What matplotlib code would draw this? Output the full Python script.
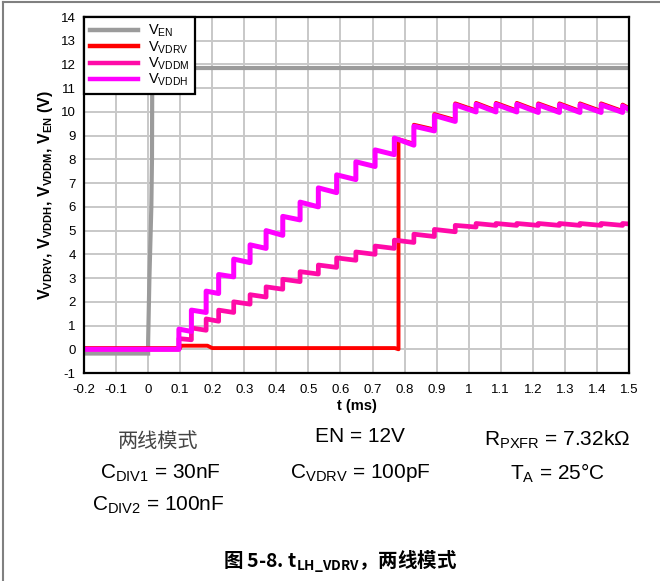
import matplotlib
matplotlib.use('Agg')
import matplotlib.pyplot as plt
from matplotlib.lines import Line2D
import numpy as np

plt.rcParams['font.family'] = ['Liberation Sans', 'Noto Sans CJK SC']
plt.rcParams['mathtext.default'] = 'regular'
plt.rcParams['axes.unicode_minus'] = False

# ---- data ----
x_ticks = [-0.2, -0.1, 0, 0.1, 0.2, 0.3, 0.4, 0.5, 0.6, 0.7, 0.8, 0.9, 1, 1.1, 1.2, 1.3, 1.4, 1.5]
x_tick_labels = ['-0.2', '-0.1', '0', '0.1', '0.2', '0.3', '0.4', '0.5', '0.6', '0.7', '0.8',
                 '0.9', '1', '1.1', '1.2', '1.3', '1.4', '1.5']
y_ticks = list(range(-1, 15))

# V_EN
ven_t = [-0.2, 0.0, 0.0, 0.004, 0.010, 0.012, 0.013, 0.02, 1.5]
ven_v = [-0.18, -0.18, 0.3, 3.0, 6.0, 8.0, 11.85, 11.85, 11.85]

# common step instants (ms)
step_t = [0.096, 0.135, 0.181, 0.220, 0.267, 0.318, 0.368, 0.420, 0.474, 0.531, 0.588,
          0.648, 0.708, 0.768, 0.829, 0.893, 0.958, 1.023, 1.085, 1.150, 1.217, 1.283,
          1.347, 1.413, 1.480]

# V_VDDH: level right after each step and level just before the next step
vddh_top = [0.85, 1.65, 2.45, 3.15, 3.80, 4.40, 5.00, 5.60, 6.20, 6.80, 7.35, 7.90, 8.40,
            8.90, 9.40, 9.85, 10.30, 10.32, 10.32, 10.32, 10.30, 10.30, 10.30, 10.30, 10.25]
vddh_sag = [0.75, 1.55, 2.35, 3.05, 3.65, 4.25, 4.80, 5.45, 6.00, 6.60, 7.15, 7.70, 8.20,
            8.60, 9.20, 9.60, 10.00, 10.00, 10.00, 9.98, 9.98, 9.98, 9.98, 9.98, 10.10]

# V_VDDM
vddm_top = [0.45, 0.90, 1.28, 1.65, 2.00, 2.30, 2.63, 2.95, 3.27, 3.55, 3.85, 4.10, 4.35,
            4.60, 4.85, 5.05, 5.22, 5.30, 5.30, 5.30, 5.30, 5.30, 5.30, 5.30, 5.30]
vddm_sag = [0.40, 0.80, 1.18, 1.55, 1.90, 2.20, 2.53, 2.85, 3.17, 3.45, 3.75, 4.00, 4.25,
            4.50, 4.75, 4.95, 5.15, 5.22, 5.22, 5.22, 5.22, 5.22, 5.22, 5.22, 5.28]

# V_VDRV before it switches to follow V_VDDH
vdrv_t = [-0.2, 0.10, 0.10, 0.185, 0.20, 0.77, 0.781, 0.781]
vdrv_v = [0.05, 0.05, 0.15, 0.15, 0.05, 0.05, 0.0, 8.85]
vdrv_switch = 0.781


def staircase(times, tops, sags, t_end):
    xs, ys = [-0.2, times[0]], [0.0, 0.0]
    for i, t in enumerate(times):
        nxt = times[i + 1] if i + 1 < len(times) else t_end
        xs += [t, nxt]
        ys += [tops[i], sags[i]]
    return np.array(xs), np.array(ys)


vddh_x, vddh_y = staircase(step_t, vddh_top, vddh_sag, 1.5)
vddm_x, vddm_y = staircase(step_t, vddm_top, vddm_sag, 1.5)

keep = vddh_x > vdrv_switch
drv_x = np.concatenate([vdrv_t, vddh_x[keep]])
drv_y = np.concatenate([vdrv_v, vddh_y[keep] + 0.06])

c_en = '#9b9b9b'
c_drv = '#ff0000'
c_ddm = '#ff0aa8'
c_ddh = '#ff00ff'

fig = plt.figure(figsize=(6.6, 5.81), dpi=100)
ax = fig.add_axes([84 / 660, 1 - 373 / 581, (629 - 84) / 660, (373 - 17) / 581])

ax.plot(ven_t, ven_v, color=c_en, lw=3.0, label='V$_{EN}$', solid_joinstyle='miter')
ax.plot(drv_x, drv_y, color=c_drv, lw=2.8, label='V$_{VDRV}$')
ax.plot(vddm_x, vddm_y, color=c_ddm, lw=3.4, label='V$_{VDDM}$')
ax.plot(vddh_x, vddh_y, color=c_ddh, lw=3.6, label='V$_{VDDH}$')

ax.set_xlim(-0.2, 1.5)
ax.set_ylim(-1, 14)
ax.set_xticks(x_ticks)
ax.set_xticklabels(x_tick_labels)
ax.set_yticks(y_ticks)
ax.tick_params(length=0, labelsize=9.5)
ax.tick_params(axis='x', pad=8)
ax.tick_params(axis='y', pad=6)
ax.grid(True, color='#c8c8c8', lw=1.4)
ax.set_axisbelow(True)
for s in ax.spines.values():
    s.set_color('black')
    s.set_linewidth(1.6)

ax.set_xlabel('t (ms)', fontsize=10.5, fontweight='bold', labelpad=2)
ax.set_ylabel('V$_{VDRV}$, V$_{VDDH}$, V$_{VDDM}$, V$_{EN}$ (V)', fontsize=11.5,
              fontweight='bold', labelpad=4)

leg = ax.legend(loc='upper left', bbox_to_anchor=(0, 1), borderaxespad=0, fontsize=10.5,
                fancybox=False, framealpha=1, edgecolor='black', handlelength=3.3,
                labelspacing=0.0, borderpad=0.4, handletextpad=0.7)
leg.get_frame().set_linewidth(1.6)
for h in leg.get_lines():
    h.set_linewidth(3.2)

# notes under the chart
fs = 15
fig.text(158 / 660, 1 - 441 / 581, '两线模式', fontsize=14.5, color='#444444',
         family=['Noto Sans CJK SC'], weight='light', ha='center', va='center')
fig.text(360 / 660, 1 - 437 / 581, 'EN = 12V', fontsize=fs, ha='center', va='center')
fig.text(557 / 660, 1 - 440 / 581, 'R$_{PXFR}$ = 7.32k\u03a9', fontsize=fs, ha='center', va='center')
fig.text(160 / 660, 1 - 473 / 581, 'C$_{DIV1}$ = 30nF', fontsize=fs, ha='center', va='center')
fig.text(360 / 660, 1 - 473 / 581, 'C$_{VDRV}$ = 100pF', fontsize=fs, ha='center', va='center')
fig.text(557 / 660, 1 - 473 / 581, 'T$_{A}$ = 25°C', fontsize=fs, ha='center', va='center')
fig.text(158 / 660, 1 - 505 / 581, 'C$_{DIV2}$ = 100nF', fontsize=fs, ha='center', va='center')

fig.text(340 / 660, 1 - 561 / 581, '图 5-8. t$_{LH\\_VDRV}$，两线模式', fontsize=14,
         family=['Noto Sans CJK SC'], weight='bold', ha='center', va='center')

# page frame (left and top edges)
fig.add_artist(Line2D([3 / 660, 3 / 660], [0, 1 - 2 / 581], color='#808080', lw=1.5,
                      transform=fig.transFigure))
fig.add_artist(Line2D([3 / 660, 1], [1 - 2 / 581, 1 - 2 / 581], color='#808080', lw=1.5,
                      transform=fig.transFigure))

fig.savefig('out.png', dpi=100)
